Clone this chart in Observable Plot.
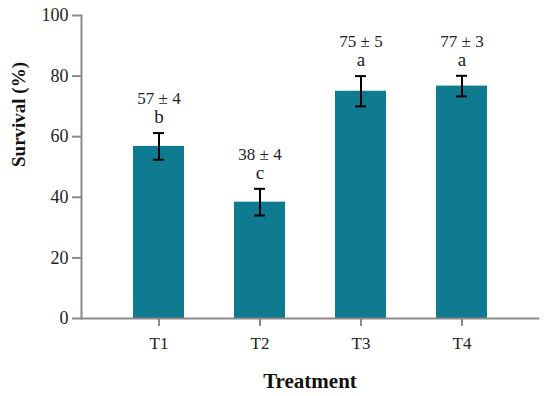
<!DOCTYPE html>
<html>
<head>
<meta charset="utf-8">
<script src="https://cdn.jsdelivr.net/npm/d3@7"></script>
<script src="https://cdn.jsdelivr.net/npm/@observablehq/plot@0.6"></script>
<style>
  html, body { margin: 0; padding: 0; background: #fff; }
  #chart svg { display: block; }
</style>
</head>
<body>
<div id="chart"></div>
<script>
const treatments = ["T1", "T2", "T3", "T4"];
const survival = [56.8, 38.4, 75.0, 76.7];
const errors = [4.4, 4.4, 5.0, 3.4];
const meanLabels = ["57 ± 4", "38 ± 4", "75 ± 5", "77 ± 3"];
const groupLetters = ["b", "c", "a", "a"];
const yTicks = [0, 20, 40, 60, 80, 100];
const xLabel = "Treatment";
const yLabel = "Survival (%)";

const data = treatments.map((t, i) => ({
  trt: t, value: survival[i], err: errors[i],
  lo: survival[i] - errors[i], hi: survival[i] + errors[i],
  mean: meanLabels[i], letter: groupLetters[i]
}));

const serif = "Liberation Serif";
const barColor = "#0e7b91";
const axisColor = "#8a8a8a";

const chart = Plot.plot({
  width: 550,
  height: 396,
  marginLeft: 81,
  marginRight: 12,
  marginTop: 15,
  marginBottom: 78,
  style: { fontFamily: serif, background: "#fff", color: "#222" },
  x: { domain: treatments, padding: 0.5, label: null },
  y: { domain: [0, 100], label: null },
  marks: [
    Plot.barY(data, { x: "trt", y: "value", fill: barColor }),
    Plot.ruleX(data, { x: "trt", y1: "lo", y2: "hi", stroke: "#000", strokeWidth: 2 }),
    Plot.tickY(data, { x: "trt", y: "hi", stroke: "#000", strokeWidth: 2, insetLeft: 20, insetRight: 20 }),
    Plot.tickY(data, { x: "trt", y: "lo", stroke: "#000", strokeWidth: 2, insetLeft: 20, insetRight: 20 }),
    Plot.text(data, { x: "trt", y: "hi", text: "letter", lineAnchor: "bottom", dy: -10, fontSize: 19, fontFamily: serif, fill: "#222" }),
    Plot.text(data, { x: "trt", y: "hi", text: "mean", lineAnchor: "bottom", dy: -29, fontSize: 17, fontFamily: serif, fill: "#222" }),
    Plot.frame({ anchor: "left", stroke: axisColor, strokeWidth: 2 }),
    Plot.frame({ anchor: "bottom", stroke: axisColor, strokeWidth: 2 }),
    Plot.axisY({ ticks: yTicks, tickSize: 9, stroke: axisColor, strokeWidth: 2, tickFormat: () => "", label: null }),
    Plot.axisX({ tickSize: 8, stroke: axisColor, strokeWidth: 2, tickFormat: () => "", label: null }),
    Plot.text(yTicks, { y: d => d, text: d => String(d), frameAnchor: "left", dx: -13, textAnchor: "end", lineAnchor: "middle", fontSize: 18, fontFamily: serif, fill: "#222" }),
    Plot.text(treatments, { x: d => d, text: d => d, frameAnchor: "bottom", dy: 18, lineAnchor: "top", fontSize: 17, fontFamily: serif, fill: "#222" }),
    Plot.text([xLabel], { frameAnchor: "bottom", text: d => d, dy: 69, lineAnchor: "bottom", fontSize: 21, fontWeight: "bold", fontFamily: serif, fill: "#111" }),
    Plot.text([yLabel], { frameAnchor: "left", text: d => d, dx: -63, rotate: -90, fontSize: 19, fontWeight: "bold", fontFamily: serif, fill: "#111" })
  ]
});
document.getElementById("chart").appendChild(chart);
</script>
</body>
</html>
